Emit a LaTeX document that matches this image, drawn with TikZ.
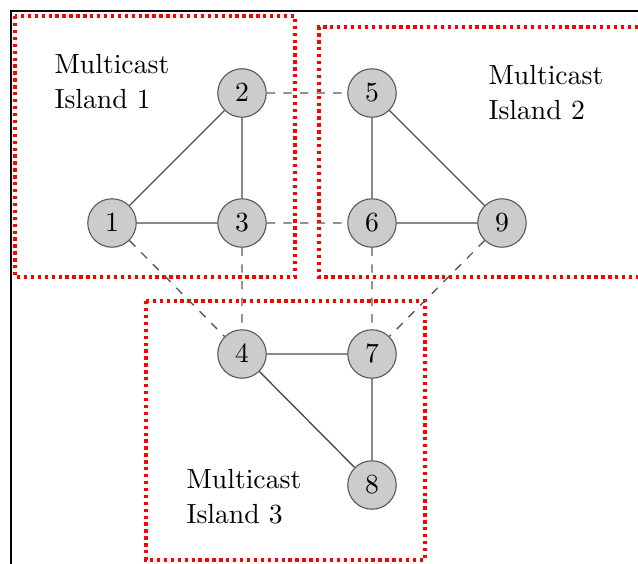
\documentclass[tikz,border=0pt]{standalone}
\usepackage{color}
\usepackage{amsmath,amssymb}
\usepackage{tikz}

\begin{document}
\begin{tikzpicture}[x=0.3612pt,y=-0.3612pt]
\tikzstyle{vertex}=[draw=black!65,fill=gray!40,shape=circle,minimum size=17.5pt,inner sep=0pt];
\tikzstyle{island}=[draw=red,line width=1.1pt,dash pattern=on 1.2pt off 1.3pt];
\tikzstyle{label}=[align=left,anchor=north west,inner sep=0pt];
\tikzstyle{link}=[draw=black!70,line width=0.5pt];
\tikzstyle{bridge}=[draw=black!65,line width=0.5pt,dash pattern=on 3pt off 3pt];
\useasboundingbox (0,0) rectangle (638,564);
\draw[line width=1pt] (11,564) |- (638,11);
% islands
\draw[island] (15,16) rectangle (295,277);
\draw[island] (638,27) -| (319,277) -- (638,277);
\draw[island] (146,301) rectangle (425,560);
\path (54,54) node[label] (t1) {Multicast\\[0.6pt]Island 1};
\path (488,65) node[label] (t2) {Multicast\\[0.6pt]Island 2};
\path (186,469) node[label] (t3) {Multicast\\[0.6pt]Island 3};
% routers
\path (112,223) node[vertex] (v1) {$1$};
\path (242,93) node[vertex] (v2) {$2$};
\path (242,223) node[vertex] (v3) {$3$};
\path (242,354) node[vertex] (v4) {$4$};
\path (372,93) node[vertex] (v5) {$5$};
\path (372,223) node[vertex] (v6) {$6$};
\path (372,354) node[vertex] (v7) {$7$};
\path (372,485) node[vertex] (v8) {$8$};
\path (502,223) node[vertex] (v9) {$9$};
\draw[link] (v1) -- (v2)
(v1) -- (v3)
(v2) -- (v3)
(v5) -- (v6)
(v5) -- (v9)
(v6) -- (v9)
(v4) -- (v7)
(v4) -- (v8)
(v7) -- (v8);
\draw[bridge] (v2) -- (v5)
(v3) -- (v6)
(v1) -- (v4)
(v3) -- (v4)
(v6) -- (v7)
(v9) -- (v7);
\end{tikzpicture}
\end{document}
